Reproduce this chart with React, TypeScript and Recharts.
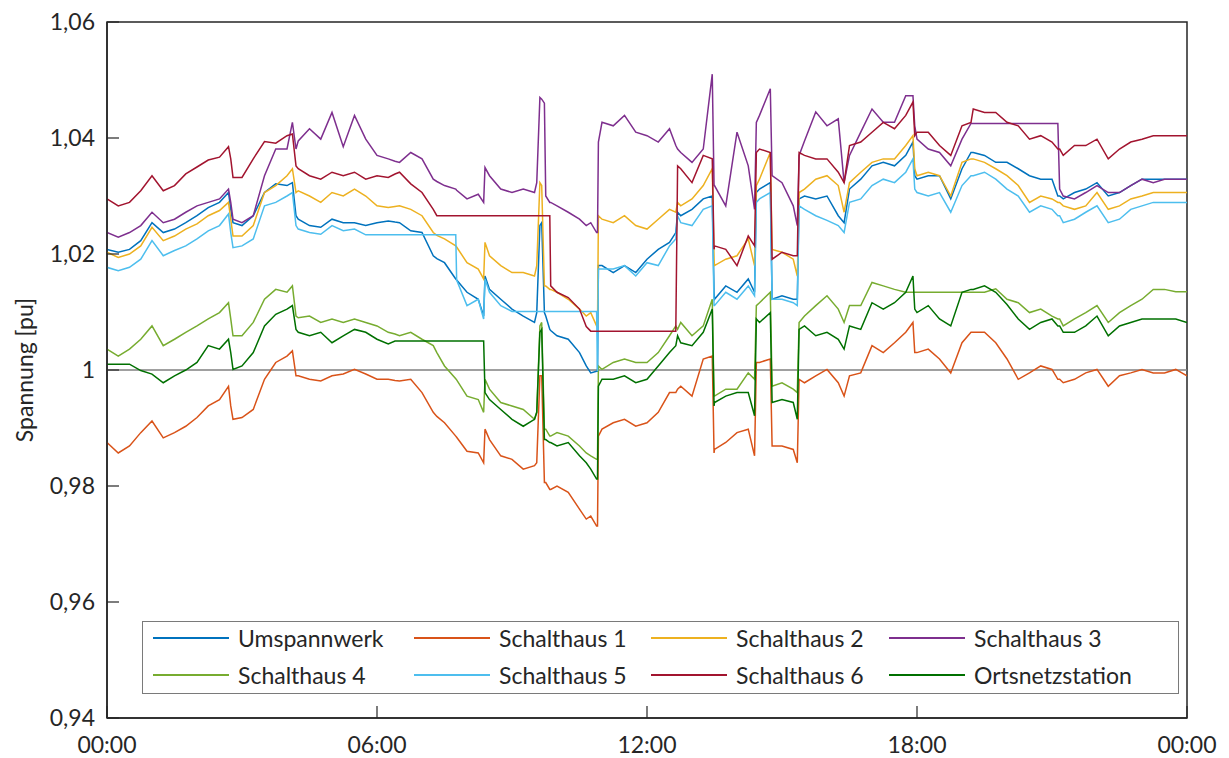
import React from 'react';
import { LineChart, Line, XAxis, YAxis, ReferenceLine, ReferenceArea } from 'recharts';

// time of day in hours (15 min grid plus the switching instants)
const hours = [
  0, 0.25, 0.5, 0.75, 1, 1.25, 1.5, 1.75, 2, 2.25, 2.5, 2.7, 2.75, 2.8, 3, 3.25, 3.5, 3.75,
  4, 4.12, 4.2, 4.25, 4.5, 4.75, 5, 5.25, 5.5, 5.75, 6, 6.25, 6.4, 6.5, 6.75, 7, 7.25, 7.33, 7.5, 7.75, 7.77,
  8, 8.25, 8.37, 8.4, 8.5, 8.75, 9, 9.25, 9.5, 9.55, 9.62, 9.66, 9.72, 9.75, 9.84, 9.86, 10, 10.25, 10.5, 10.65, 10.75, 10.88, 10.9, 10.92, 11, 11.25, 11.5, 11.75,
  12, 12.25, 12.5, 12.64, 12.68, 12.75, 13, 13.25, 13.45, 13.49, 13.5, 13.75, 14, 14.25, 14.39, 14.43, 14.5, 14.74, 14.78, 15, 15.25, 15.34, 15.38, 15.5, 15.75,
  16, 16.25, 16.38, 16.5, 16.75, 17, 17.25, 17.5, 17.75, 17.91, 17.95, 18, 18.25, 18.5, 18.75, 19, 19.2, 19.25, 19.5, 19.75,
  20, 20.25, 20.5, 20.75, 21, 21.13, 21.17, 21.25, 21.5, 21.75, 22, 22.25, 22.5, 22.75, 23, 23.25, 23.5, 23.75, 24,
];

const umspannwerk = [
  1.0208, 1.0203, 1.0208, 1.0223, 1.0254, 1.0237, 1.0243, 1.0254, 1.0266, 1.028, 1.0289, 1.0306, 1.0277, 1.0254, 1.0249, 1.0266, 1.0306, 1.0321,
  1.0318, 1.0323, 1.0266, 1.026, 1.0249, 1.0246, 1.026, 1.0254, 1.0254, 1.0249, 1.0254, 1.0257, 1.0255, 1.0254, 1.024, 1.0237, 1.0197, 1.0192, 1.0185, 1.0157, 1.0155,
  1.0134, 1.0122, 1.0093, 1.0162, 1.0139, 1.0122, 1.0105, 1.0093, 1.0082, 1.0099, 1.0249, 1.0254, 1.0099, 1.0093, 1.007, 1.0068, 1.0059, 1.0053, 1.003, 1.0007, 0.9995, 0.9998, 0.9998, 1.018, 1.018, 1.0168, 1.018, 1.0168,
  1.0191, 1.0208, 1.022, 1.0237, 1.0272, 1.0266, 1.0277, 1.0295, 1.03, 1.0134, 1.0122, 1.0145, 1.0134, 1.0157, 1.0134, 1.0306, 1.0312, 1.0323, 1.0122, 1.0128, 1.0122, 1.0122, 1.0295, 1.03, 1.0295,
  1.03, 1.0266, 1.0254, 1.0312, 1.0329, 1.0352, 1.0358, 1.0352, 1.037, 1.0393, 1.0335, 1.0329, 1.0335, 1.0335, 1.0295, 1.0347, 1.0375, 1.0375, 1.037, 1.0358,
  1.0358, 1.0347, 1.0335, 1.0329, 1.0329, 1.03, 1.03, 1.0295, 1.0306, 1.0312, 1.0323, 1.03, 1.0306, 1.0318, 1.0329, 1.0329, 1.0329, 1.0329, 1.0329,
];

const schalthaus1 = [
  0.9875, 0.9857, 0.9869, 0.9892, 0.9912, 0.9883, 0.9892, 0.9903, 0.9918, 0.9938, 0.9949, 0.9972, 0.9938, 0.9915, 0.9918, 0.9932, 0.9984, 1.0013,
  1.0024, 1.0033, 0.999, 0.999, 0.9984, 0.9981, 0.999, 0.9993, 1.0001, 0.9993, 0.9984, 0.9984, 0.9982, 0.9981, 0.9984, 0.9961, 0.9927, 0.992, 0.9909, 0.9886, 0.9884,
  0.986, 0.9857, 0.984, 0.9898, 0.988, 0.9852, 0.9846, 0.9829, 0.9835, 0.984, 0.999, 0.999, 0.9806, 0.9806, 0.9794, 0.9794, 0.98, 0.9789, 0.976, 0.9743, 0.9748, 0.9731, 0.9731, 0.9886, 0.9898, 0.9909, 0.9915, 0.9903,
  0.9909, 0.9927, 0.9961, 0.9961, 0.9967, 0.9972, 0.9955, 1.0019, 1.0024, 0.9857, 0.9863, 0.9875, 0.9892, 0.9898, 0.9852, 1.0013, 1.0013, 1.0019, 0.9869, 0.9869, 0.9863, 0.984, 0.9984, 0.9978, 0.999,
  1.0001, 0.9978, 0.9955, 0.999, 0.9995, 1.0042, 1.003, 1.0047, 1.0065, 1.0082, 1.003, 1.003, 1.0036, 1.0019, 0.9995, 1.0047, 1.0065, 1.0065, 1.0065, 1.0047,
  1.0019, 0.9984, 0.9995, 1.0007, 1.0001, 0.9984, 0.9984, 0.9978, 0.9984, 0.9995, 1.0001, 0.9972, 0.999, 0.9995, 1.0001, 0.9995, 0.9995, 1.0001, 0.999,
];

const schalthaus2 = [
  1.0203, 1.0194, 1.02, 1.0214, 1.0246, 1.0223, 1.0231, 1.0243, 1.0252, 1.0266, 1.0275, 1.0289, 1.026, 1.0231, 1.0231, 1.0249, 1.0306, 1.0318,
  1.0335, 1.0347, 1.0306, 1.0309, 1.03, 1.0289, 1.0306, 1.03, 1.0312, 1.03, 1.0283, 1.028, 1.0282, 1.0283, 1.0277, 1.0266, 1.0237, 1.0232, 1.0226, 1.0214, 1.0212,
  1.0185, 1.0174, 1.0157, 1.022, 1.0197, 1.018, 1.0168, 1.0168, 1.0162, 1.018, 1.0323, 1.0318, 1.0145, 1.0145, 1.0139, 1.0139, 1.0134, 1.0122, 1.0105, 1.0093, 1.0099, 1.0076, 1.0076, 1.0266, 1.026, 1.0254, 1.0266, 1.0249,
  1.0243, 1.026, 1.0277, 1.0272, 1.0289, 1.0283, 1.0295, 1.0318, 1.0347, 1.0191, 1.018, 1.0191, 1.0197, 1.0226, 1.018, 1.0318, 1.0329, 1.0375, 1.0208, 1.0203, 1.0191, 1.0162, 1.0306, 1.0312, 1.0329,
  1.0335, 1.0318, 1.0272, 1.0323, 1.0341, 1.0358, 1.0364, 1.0364, 1.0387, 1.0404, 1.0347, 1.0335, 1.0341, 1.0335, 1.03, 1.0358, 1.0364, 1.0364, 1.0358, 1.0347,
  1.0335, 1.0318, 1.0289, 1.03, 1.0295, 1.0289, 1.0289, 1.0283, 1.0277, 1.0283, 1.0306, 1.0277, 1.0283, 1.0295, 1.03, 1.0306, 1.0306, 1.0306, 1.0306,
];

const schalthaus3 = [
  1.0237, 1.0229, 1.0237, 1.0249, 1.0272, 1.0254, 1.026, 1.0272, 1.0283, 1.0289, 1.0295, 1.0312, 1.0289, 1.026, 1.0254, 1.0266, 1.0335, 1.0381,
  1.0381, 1.0427, 1.0381, 1.0395, 1.0416, 1.0398, 1.0444, 1.0385, 1.0439, 1.0398, 1.037, 1.0364, 1.036, 1.0358, 1.0375, 1.0364, 1.0329, 1.0325, 1.0318, 1.0312, 1.031,
  1.0295, 1.0303, 1.0289, 1.0349, 1.0335, 1.0312, 1.0306, 1.0312, 1.0306, 1.0323, 1.047, 1.0467, 1.046, 1.03, 1.0289, 1.0289, 1.0283, 1.0272, 1.026, 1.0249, 1.0254, 1.0237, 1.0237, 1.0393, 1.0427, 1.0421, 1.0439, 1.041,
  1.0404, 1.0393, 1.0416, 1.0387, 1.0381, 1.0375, 1.0358, 1.0381, 1.051, 1.0318, 1.0318, 1.0283, 1.041, 1.0352, 1.0277, 1.0427, 1.0439, 1.0485, 1.0335, 1.0323, 1.0283, 1.0249, 1.037, 1.0395, 1.0445,
  1.0421, 1.0433, 1.0323, 1.037, 1.041, 1.045, 1.0427, 1.0427, 1.0473, 1.0473, 1.0421, 1.0398, 1.0381, 1.0375, 1.0352, 1.0398, 1.0425, 1.0425, 1.0425, 1.0425,
  1.0425, 1.0425, 1.0425, 1.0425, 1.0425, 1.0425, 1.0312, 1.03, 1.0295, 1.0306, 1.0318, 1.0306, 1.0306, 1.0318, 1.0329, 1.0323, 1.0329, 1.0329, 1.0329,
];

const schalthaus4 = [
  1.0036, 1.0024, 1.0036, 1.0053, 1.0076, 1.0042, 1.0053, 1.0065, 1.0076, 1.0088, 1.0099, 1.0116, 1.0088, 1.0059, 1.0059, 1.0082, 1.0122, 1.0139,
  1.0134, 1.0145, 1.0093, 1.009, 1.0093, 1.0082, 1.0088, 1.0082, 1.0088, 1.0082, 1.0076, 1.0065, 1.0062, 1.0059, 1.0065, 1.0053, 1.0042, 1.003, 1.0007, 0.9985, 0.9983,
  0.9955, 0.9949, 0.9927, 0.9984, 0.9967, 0.9944, 0.9938, 0.9932, 0.9915, 0.9927, 1.0076, 1.0082, 0.9898, 0.9898, 0.9886, 0.9886, 0.9892, 0.9886, 0.9869, 0.9857, 0.9852, 0.9846, 0.9846, 1.0007, 1.0001, 1.0013, 1.0019, 1.0013,
  1.0013, 1.003, 1.0059, 1.0076, 1.007, 1.0082, 1.0059, 1.0076, 1.0122, 0.9955, 0.9955, 0.9967, 0.9967, 0.9995, 0.9984, 1.0111, 1.0116, 1.0134, 0.9972, 0.9978, 0.9967, 0.9961, 1.0082, 1.0093, 1.0111,
  1.0128, 1.0105, 1.0082, 1.0111, 1.0111, 1.0151, 1.0145, 1.0139, 1.0134, 1.0134, 1.0134, 1.0134, 1.0134, 1.0134, 1.0134, 1.0134, 1.0134, 1.0134, 1.0134, 1.014,
  1.0122, 1.0116, 1.0099, 1.0105, 1.0093, 1.0088, 1.0088, 1.0076, 1.0088, 1.0099, 1.0111, 1.0082, 1.0099, 1.0111, 1.0122, 1.0139, 1.0139, 1.0135, 1.0135,
];

const schalthaus5 = [
  1.0177, 1.0171, 1.0177, 1.0191, 1.0223, 1.0197, 1.0206, 1.0214, 1.0226, 1.024, 1.0249, 1.0269, 1.0237, 1.0211, 1.0214, 1.0226, 1.0283, 1.0289,
  1.03, 1.0306, 1.0249, 1.0243, 1.0237, 1.0234, 1.0249, 1.024, 1.0243, 1.0233, 1.0233, 1.0233, 1.0233, 1.0233, 1.0233, 1.0233, 1.0233, 1.0233, 1.0233, 1.0233, 1.0155,
  1.0111, 1.0122, 1.0088, 1.0157, 1.0134, 1.0111, 1.0101, 1.0101, 1.0101, 1.0101, 1.0101, 1.0101, 1.0101, 1.0101, 1.0101, 1.0101, 1.0101, 1.0101, 1.0101, 1.0101, 1.0101, 1.0101, 0.9998, 1.0174, 1.0174, 1.0174, 1.018, 1.0162,
  1.0185, 1.018, 1.0214, 1.0226, 1.0266, 1.0254, 1.0249, 1.0277, 1.0283, 1.0111, 1.0111, 1.0134, 1.0122, 1.0145, 1.0128, 1.0289, 1.0295, 1.0306, 1.0122, 1.0122, 1.0116, 1.0111, 1.0283, 1.0277, 1.0266,
  1.0258, 1.0249, 1.0237, 1.0289, 1.0295, 1.0318, 1.0329, 1.0323, 1.0341, 1.0364, 1.0312, 1.0306, 1.03, 1.0306, 1.0272, 1.0318, 1.0335, 1.0335, 1.0341, 1.0329,
  1.0312, 1.03, 1.0272, 1.0283, 1.0277, 1.0266, 1.0266, 1.0254, 1.026, 1.0272, 1.0283, 1.0254, 1.026, 1.0277, 1.0283, 1.0289, 1.0289, 1.0289, 1.0289,
];

const schalthaus6 = [
  1.0295, 1.0283, 1.0289, 1.0309, 1.0335, 1.0309, 1.0318, 1.0338, 1.035, 1.0362, 1.0367, 1.0385, 1.0364, 1.0332, 1.0332, 1.0364, 1.0394, 1.0391,
  1.0404, 1.0407, 1.0352, 1.0347, 1.0335, 1.0329, 1.0341, 1.0335, 1.0341, 1.0329, 1.0335, 1.0332, 1.0338, 1.0341, 1.0321, 1.0306, 1.0277, 1.0266, 1.0266, 1.0266, 1.0266,
  1.0266, 1.0266, 1.0266, 1.0266, 1.0266, 1.0266, 1.0266, 1.0266, 1.0266, 1.0266, 1.0266, 1.0266, 1.0266, 1.0266, 1.0266, 1.0145, 1.0134, 1.0125, 1.0105, 1.0075, 1.0067, 1.0067, 1.0067, 1.0067, 1.0067, 1.0067, 1.0067, 1.0067,
  1.0067, 1.0067, 1.0067, 1.0067, 1.0352, 1.0347, 1.0323, 1.037, 1.0364, 1.0208, 1.0214, 1.0208, 1.018, 1.0231, 1.0214, 1.0375, 1.0381, 1.0375, 1.0191, 1.0203, 1.0197, 1.0197, 1.0375, 1.037, 1.0364,
  1.0364, 1.0341, 1.0323, 1.0387, 1.0393, 1.041, 1.0427, 1.0416, 1.0439, 1.0462, 1.0404, 1.041, 1.041, 1.0387, 1.037, 1.0421, 1.0427, 1.045, 1.0444, 1.0444,
  1.0427, 1.0421, 1.0398, 1.0404, 1.0393, 1.0381, 1.0381, 1.037, 1.0387, 1.0387, 1.0398, 1.0364, 1.0381, 1.0393, 1.0398, 1.0404, 1.0404, 1.0404, 1.0404,
];

const ortsnetzstation = [
  1.001, 1.001, 1.001, 0.9999, 0.9993, 0.9978, 0.999, 1.0, 1.0013, 1.0042, 1.0036, 1.0053, 1.003, 1.0001, 1.0007, 1.003, 1.0076, 1.0096,
  1.0105, 1.0111, 1.007, 1.0065, 1.0059, 1.0065, 1.0047, 1.0059, 1.007, 1.0065, 1.0053, 1.0045, 1.005, 1.005, 1.005, 1.005, 1.005, 1.005, 1.005, 1.005, 1.005,
  1.005, 1.005, 1.005, 0.9961, 0.9949, 0.9932, 0.9915, 0.9903, 0.9915, 0.9927, 1.0065, 1.007, 0.988, 0.988, 0.9875, 0.9875, 0.9869, 0.9875, 0.9852, 0.984, 0.9829, 0.9812, 0.9812, 0.9972, 0.9984, 0.9984, 0.999, 0.9978,
  0.9984, 1.0007, 1.003, 1.0042, 1.0059, 1.0047, 1.0042, 1.0065, 1.0105, 0.9938, 0.9944, 0.9955, 0.9961, 0.9961, 0.9921, 1.0088, 1.0082, 1.0099, 0.9944, 0.9949, 0.9944, 0.9915, 1.007, 1.0076, 1.0059,
  1.0065, 1.0053, 1.0036, 1.0076, 1.007, 1.0116, 1.0105, 1.0116, 1.0134, 1.0162, 1.0105, 1.0099, 1.0111, 1.0088, 1.0076, 1.0134, 1.0139, 1.0139, 1.0145, 1.0134,
  1.0113, 1.0088, 1.007, 1.0082, 1.0088, 1.0076, 1.0076, 1.0065, 1.0065, 1.0076, 1.0093, 1.0059, 1.0076, 1.0082, 1.0088, 1.0088, 1.0088, 1.0088, 1.0082,
];

const seriesNames = [
  'Umspannwerk', 'Schalthaus 1', 'Schalthaus 2', 'Schalthaus 3',
  'Schalthaus 4', 'Schalthaus 5', 'Schalthaus 6', 'Ortsnetzstation',
];
const seriesValues = [
  umspannwerk, schalthaus1, schalthaus2, schalthaus3,
  schalthaus4, schalthaus5, schalthaus6, ortsnetzstation,
];
const seriesColors = [
  '#0072BD', '#D95319', '#EDB120', '#7E2F8E',
  '#77AC30', '#4DBEEE', '#A2142F', '#007000',
];

const yTicks = [0.94, 0.96, 0.98, 1, 1.02, 1.04, 1.06];
const yTickLabels = ['0,94', '0,96', '0,98', '1', '1,02', '1,04', '1,06'];
const xTicks = [0, 6, 12, 18, 24];
const xTickLabels = ['00:00', '06:00', '12:00', '18:00', '00:00'];
const innerXTicks = [6, 12, 18];

const data = hours.map((h, i) => {
  const row: Record<string, number> = { h };
  seriesValues.forEach((vals, k) => {
    row['s' + k] = vals[i];
  });
  return row;
});

const TEXT = '#262626';
const FONT = 'Lato, sans-serif';
const FS = 23;

// legend column starts (line sample x, relative to the box)
const legendCols = [10, 271, 508, 746];

function YTitle(props: any) {
  const vb = props.viewBox || { x: 0, y: 22, width: 107, height: 696 };
  const x = vb.x + 24;
  const y = vb.y + vb.height / 2;
  return (
    <text x={x} y={y} transform={`rotate(-90 ${x} ${y})`} textAnchor="middle"
      dominantBaseline="central" fill={TEXT} fontSize={FS} fontFamily={FONT}>
      Spannung [pu]
    </text>
  );
}

export default function App() {
  return (
    <div style={{ position: 'absolute', left: 0, top: 0, width: 1229, height: 758, background: '#fff', fontFamily: FONT }}>
      <LineChart width={1229} height={758} data={data} margin={{ top: 21, right: 41, bottom: 0, left: 0 }}>
        <XAxis dataKey="h" type="number" domain={[0, 24]} ticks={xTicks}
          tickFormatter={(v: number) => xTickLabels[xTicks.indexOf(v)]}
          height={40} tickSize={-12} tickMargin={31} interval={0}
          axisLine={{ stroke: TEXT, strokeWidth: 1.5 }} tickLine={{ stroke: TEXT, strokeWidth: 1.2 }}
          tick={{ fill: TEXT, fontSize: FS, fontFamily: FONT }} allowDataOverflow />
        <XAxis xAxisId="top" orientation="top" dataKey="h" type="number" domain={[0, 24]} ticks={innerXTicks}
          height={1} tickSize={-12} tick={false} axisLine={false} interval={0}
          tickLine={{ stroke: TEXT, strokeWidth: 1.2 }} allowDataOverflow />
        <YAxis type="number" domain={[0.94, 1.06]} ticks={yTicks}
          tickFormatter={(v: number) => yTickLabels[yTicks.indexOf(v)]}
          width={107} tickSize={-12} tickMargin={24} interval={0}
          axisLine={{ stroke: TEXT, strokeWidth: 1.5 }} tickLine={{ stroke: TEXT, strokeWidth: 1.2 }}
          tick={{ fill: TEXT, fontSize: FS, fontFamily: FONT }} allowDataOverflow
          label={<YTitle />} />
        <YAxis yAxisId="right" orientation="right" type="number" domain={[0.94, 1.06]} ticks={yTicks}
          width={1} tickSize={-12} tick={false} axisLine={false} interval={0}
          tickLine={{ stroke: TEXT, strokeWidth: 1.2 }} allowDataOverflow />
        <ReferenceArea x1={0} x2={24} y1={0.94} y2={1.06} fill="none" fillOpacity={0}
          stroke={TEXT} strokeWidth={1.5} />
        <ReferenceLine yAxisId="right" y={1} stroke="#808080" strokeWidth={1.5} />
        {seriesNames.map((name, k) => (
          <Line key={name} dataKey={'s' + k} name={name} type="linear" stroke={seriesColors[k]}
            strokeWidth={1.5} dot={false} activeDot={false} isAnimationActive={false} />
        ))}
      </LineChart>
      <div style={{
        position: 'absolute', left: 142, top: 621, width: 1037, height: 73, boxSizing: 'border-box',
        border: '1px solid #7a7a7a', background: '#fff', color: TEXT, fontSize: FS, fontFamily: FONT,
      }}>
        {seriesNames.map((name, k) => (
          <div key={name} style={{
            position: 'absolute', left: legendCols[k % 4], top: k < 4 ? -3 : 34, height: 37,
            display: 'flex', alignItems: 'center', whiteSpace: 'nowrap',
          }}>
            <div style={{ width: 76, height: 2, background: seriesColors[k], marginRight: 9, flex: 'none' }} />
            <span>{name}</span>
          </div>
        ))}
      </div>
    </div>
  );
}
